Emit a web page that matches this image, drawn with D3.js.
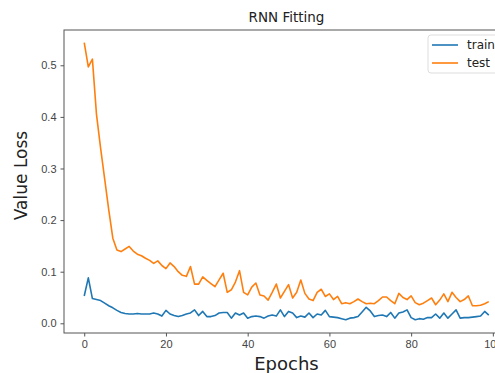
<!DOCTYPE html>
<html>
<head>
<meta charset="utf-8">
<script src="https://cdn.jsdelivr.net/npm/d3@7"></script>
<style>
  body { margin: 0; background: #fff; }
  svg { display: block; font-family: "DejaVu Sans", sans-serif; }
  .tick text { fill: #444; }
</style>
</head>
<body>
<div id="chart"></div>
<script>
// series, one value per epoch (0..99)
const seriesNames = ['train', 'test'];
const seriesColors = ['#1f77b4', '#ff7f0e'];

const trainLoss = [
  0.053, 0.088, 0.048, 0.046, 0.044, 0.039, 0.034, 0.030, 0.025, 0.021,
  0.019, 0.018, 0.018, 0.019, 0.018, 0.018, 0.018, 0.020, 0.018, 0.014,
  0.025, 0.018, 0.015, 0.013, 0.015, 0.018, 0.020, 0.026, 0.015, 0.023,
  0.013, 0.013, 0.015, 0.020, 0.021, 0.021, 0.010, 0.020, 0.016, 0.020,
  0.010, 0.013, 0.014, 0.013, 0.010, 0.014, 0.016, 0.014, 0.026, 0.013,
  0.023, 0.020, 0.011, 0.014, 0.012, 0.020, 0.011, 0.018, 0.016, 0.025,
  0.013, 0.012, 0.011, 0.009, 0.007, 0.010, 0.011, 0.013, 0.022, 0.031,
  0.024, 0.013, 0.015, 0.016, 0.013, 0.021, 0.010, 0.020, 0.022, 0.026,
  0.011, 0.007, 0.009, 0.008, 0.011, 0.011, 0.018, 0.010, 0.020, 0.010,
  0.018, 0.026, 0.010, 0.011, 0.011, 0.012, 0.013, 0.014, 0.023, 0.016
];

const testLoss = [
  0.544, 0.497, 0.512, 0.405, 0.340, 0.280, 0.220, 0.165, 0.142, 0.139,
  0.144, 0.149, 0.140, 0.134, 0.131, 0.126, 0.122, 0.116, 0.121, 0.112,
  0.106, 0.117, 0.110, 0.100, 0.093, 0.091, 0.110, 0.076, 0.076, 0.090,
  0.083, 0.077, 0.071, 0.084, 0.097, 0.060, 0.065, 0.080, 0.102, 0.060,
  0.055, 0.070, 0.078, 0.055, 0.053, 0.045, 0.060, 0.076, 0.049, 0.062,
  0.075, 0.049, 0.060, 0.084, 0.058, 0.047, 0.044, 0.060, 0.066, 0.052,
  0.057, 0.046, 0.052, 0.038, 0.040, 0.038, 0.042, 0.047, 0.042, 0.038,
  0.039, 0.038, 0.044, 0.051, 0.051, 0.044, 0.038, 0.058, 0.050, 0.046,
  0.053, 0.040, 0.036, 0.039, 0.044, 0.049, 0.036, 0.045, 0.057, 0.042,
  0.060, 0.050, 0.042, 0.046, 0.053, 0.034, 0.034, 0.035, 0.038, 0.042
];

const xTicks = [0, 20, 40, 60, 80, 100];
const yTicks = [0.0, 0.1, 0.2, 0.3, 0.4, 0.5];

const W = 495, H = 373;
// plot frame runs past the right edge, like the cropped original
const margin = { top: 30, left: 64, right: 509, bottom: 333 };

const svg = d3.select('#chart').append('svg')
  .attr('width', W)
  .attr('height', H);

const x = d3.scaleLinear()
  .domain([-4.95, 103.95])
  .range([margin.left, margin.right]);

const y = d3.scaleLinear()
  .domain([-0.0188, 0.5684])
  .range([margin.bottom, margin.top]);

const epochs = d3.range(trainLoss.length);
const allSeries = [trainLoss, testLoss];

// lines
const line = d3.line()
  .x((d, i) => x(i))
  .y(d => y(d));

allSeries.forEach((vals, k) => {
  svg.append('path')
    .datum(vals)
    .attr('fill', 'none')
    .attr('stroke', seriesColors[k])
    .attr('stroke-width', 1.6)
    .attr('stroke-linejoin', 'round')
    .attr('d', line);
});

// axes
const xAxis = svg.append('g')
  .attr('transform', `translate(0,${margin.bottom})`)
  .call(d3.axisBottom(x).tickValues(xTicks).tickSize(3.5).tickPadding(4).tickFormat(d3.format('d')));
xAxis.select('.domain').remove();
xAxis.selectAll('.tick line').attr('stroke', '#555');
xAxis.selectAll('text').attr('font-size', 11);

const yAxis = svg.append('g')
  .attr('transform', `translate(${margin.left},0)`)
  .call(d3.axisLeft(y).tickValues(yTicks).tickSize(3.5).tickPadding(4).tickFormat(d3.format('.1f')));
yAxis.select('.domain').remove();
yAxis.selectAll('.tick line').attr('stroke', '#555');
yAxis.selectAll('text').attr('font-size', 11);

// frame
svg.append('rect')
  .attr('x', margin.left)
  .attr('y', margin.top)
  .attr('width', margin.right - margin.left)
  .attr('height', margin.bottom - margin.top)
  .attr('fill', 'none')
  .attr('stroke', '#555')
  .attr('stroke-width', 1);

// title and axis labels
svg.append('text')
  .attr('x', (margin.left + margin.right) / 2)
  .attr('y', 22)
  .attr('text-anchor', 'middle')
  .attr('font-size', 13.5)
  .attr('fill', '#222')
  .text('RNN Fitting');

svg.append('text')
  .attr('x', (margin.left + margin.right) / 2)
  .attr('y', 370)
  .attr('text-anchor', 'middle')
  .attr('font-size', 18)
  .attr('fill', '#222')
  .text('Epochs');

svg.append('text')
  .attr('transform', `translate(27,${(margin.top + margin.bottom) / 2 - 6}) rotate(-90)`)
  .attr('text-anchor', 'middle')
  .attr('font-size', 17)
  .attr('fill', '#222')
  .text('Value Loss');

// legend
const legend = svg.append('g').attr('transform', 'translate(428,35)');
legend.append('rect')
  .attr('width', 90)
  .attr('height', 38)
  .attr('rx', 3)
  .attr('fill', '#fff')
  .attr('fill-opacity', 0.8)
  .attr('stroke', '#ddd');

seriesNames.forEach((name, k) => {
  const ly = 10 + k * 18;
  legend.append('line')
    .attr('x1', 4).attr('x2', 30)
    .attr('y1', ly).attr('y2', ly)
    .attr('stroke', seriesColors[k])
    .attr('stroke-width', 1.6);
  legend.append('text')
    .attr('x', 39)
    .attr('y', ly + 4)
    .attr('font-size', 12)
    .attr('fill', '#222')
    .text(name);
});
</script>
</body>
</html>
